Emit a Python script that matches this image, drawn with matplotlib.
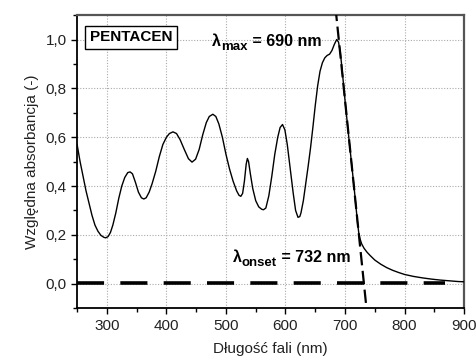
import matplotlib
matplotlib.use("Agg")
import matplotlib.pyplot as plt
from matplotlib.ticker import FixedLocator, FixedFormatter, MultipleLocator
from matplotlib.transforms import offset_copy

plt.rcParams['font.family'] = ['Liberation Sans', 'DejaVu Sans']

# ---- data ----
wavelength = [250, 255, 260, 265, 270, 275, 280, 285, 290, 295, 298, 302, 306, 310,
              315, 320, 325, 330, 335, 339, 343, 348, 353, 358, 362, 366, 371, 376,
              382, 388, 394, 400, 405, 411, 417, 423, 430, 437, 443, 449, 455, 461,
              467, 472, 478, 483, 488, 494, 500, 506, 512, 518, 522, 525, 528, 531,
              534, 536, 538, 541, 545, 550, 555, 560, 563, 567, 572, 577, 582, 587,
              591, 595, 599, 603, 608, 613, 617, 621, 624, 626, 630, 634, 638, 642,
              646, 650, 654, 658, 662, 666, 670, 674, 678, 682, 686, 689, 692, 695,
              700, 705, 710, 715, 719, 721, 723, 725, 728, 732, 737, 742, 750, 760,
              770, 780, 790, 800, 815, 830, 845, 860, 875, 890, 900]
absorbance = [0.57, 0.50, 0.44, 0.38, 0.33, 0.28, 0.24, 0.215, 0.198, 0.19, 0.188, 0.193,
              0.21, 0.24, 0.29, 0.35, 0.40, 0.435, 0.455, 0.458, 0.45, 0.415, 0.375,
              0.352, 0.347, 0.352, 0.375, 0.41, 0.46, 0.52, 0.57, 0.60, 0.615, 0.622,
              0.615, 0.59, 0.55, 0.512, 0.498, 0.51, 0.55, 0.61, 0.66, 0.685, 0.694,
              0.685, 0.655, 0.60, 0.53, 0.47, 0.42, 0.38, 0.362, 0.358, 0.37, 0.42,
              0.49, 0.513, 0.50, 0.45, 0.39, 0.34, 0.315, 0.305, 0.303, 0.31, 0.36,
              0.44, 0.53, 0.60, 0.64, 0.652, 0.63, 0.57, 0.47, 0.37, 0.30, 0.272,
              0.275, 0.29, 0.34, 0.41, 0.48, 0.555, 0.64, 0.73, 0.81, 0.87, 0.905,
              0.925, 0.935, 0.94, 0.955, 0.98, 1.0, 0.99, 0.95, 0.88, 0.75, 0.63,
              0.515, 0.40, 0.30, 0.25, 0.21, 0.185, 0.163, 0.145, 0.129, 0.116,
              0.097, 0.080, 0.066, 0.055, 0.046, 0.038, 0.030, 0.024, 0.019, 0.015,
              0.012, 0.009, 0.008]

tangent_x = [684, 736]
tangent_y = [1.13, -0.10]

baseline_x = [250, 868]
baseline_y = [0.005, 0.005]

xticks = [300, 400, 500, 600, 700, 800, 900]
xtick_labels = ['300', '400', '500', '600', '700', '800', '900']
yticks = [0.0, 0.2, 0.4, 0.6, 0.8, 1.0]
ytick_labels = ['0,0', '0,2', '0,4', '0,6', '0,8', '1,0']

fig = plt.figure(figsize=(4.76, 3.60), dpi=100)
ax = fig.add_axes([0.162, 0.144, 0.813, 0.814])

ax.plot(wavelength, absorbance, color='black', lw=1.0, zorder=3)
ax.plot(tangent_x, tangent_y, color='black', lw=1.6, dashes=(6, 2.5), zorder=4)
ax.plot(baseline_x, baseline_y, color='black', lw=2.6, dashes=(7.5, 4.5), zorder=4)

ax.set_xlim(250, 900)
ax.set_ylim(-0.1, 1.1)
ax.xaxis.set_major_locator(FixedLocator(xticks))
ax.xaxis.set_major_formatter(FixedFormatter(xtick_labels))
ax.yaxis.set_major_locator(FixedLocator(yticks))
ax.yaxis.set_major_formatter(FixedFormatter(ytick_labels))
ax.xaxis.set_minor_locator(MultipleLocator(50))
ax.yaxis.set_minor_locator(MultipleLocator(0.1))
ax.tick_params(which='major', direction='out', length=4, width=1, labelsize=11, colors='black')
ax.tick_params(which='minor', direction='out', length=3, width=1)
ax.tick_params(labelcolor='#222222')

ax.grid(True, which='major', color='#aaaaaa', linestyle=(0, (1, 1.5)), linewidth=0.8)
for s in ['left', 'bottom']:
    ax.spines[s].set_linewidth(1.3)
    ax.spines[s].set_color('black')
for s in ['top', 'right']:
    ax.spines[s].set_linewidth(1.6)
    ax.spines[s].set_color('#555555')

ax.set_xlabel('Długość fali (nm)', fontsize=11, color='#222222', labelpad=7)
ax.set_ylabel('Względna absorbancja (-)', fontsize=11, color='#222222', labelpad=5)

ax.text(0.139, 0.924, 'PENTACEN', transform=ax.transAxes, fontsize=11, fontweight='bold',
        ha='center', va='center',
        bbox=dict(boxstyle='square,pad=0.3', facecolor='white', edgecolor='black', lw=1.0),
        zorder=5)

fig.canvas.draw()
renderer = fig.canvas.get_renderer()


def compose(x, y, parts):
    dx = 0.0
    for txt, size, dy in parts:
        tr = offset_copy(ax.transAxes, fig=fig, x=dx, y=dy, units='points')
        t = ax.text(x, y, txt, transform=tr, fontsize=size, fontweight='bold',
                    ha='left', va='baseline', zorder=5)
        w = t.get_window_extent(renderer).width * 72.0 / fig.dpi
        dx += w


compose(0.349, 0.894, [('λ', 11.5, 0), ('max', 9.5, -2.5), (' = 690 nm', 11.5, 0)])
compose(0.403, 0.157, [('λ', 11.5, 0), ('onset', 9.5, -2.5), (' = 732 nm', 11.5, 0)])

fig.savefig('out.png', dpi=100)
